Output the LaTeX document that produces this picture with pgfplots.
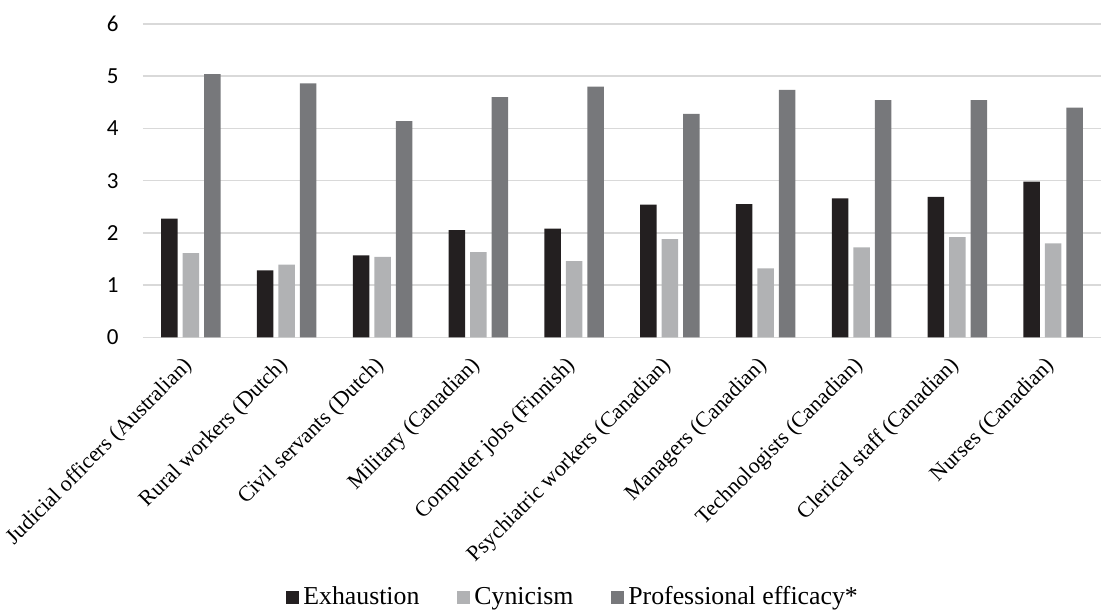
\documentclass[border=0pt]{standalone}
\usepackage{pgfplots}
\usepackage{pgfplotstable}
\pgfplotsset{compat=1.18}
\usepackage{fontspec}
\setmainfont{Liberation Serif}
\newfontfamily\carlito{Carlito}
\definecolor{exh}{HTML}{231F20}
\definecolor{cyn}{HTML}{B1B2B4}
\definecolor{pro}{HTML}{77787B}
\definecolor{gridc}{HTML}{D9D9D9}
\pgfplotstableread{
x exh cyn pro
0 2.27 1.61 5.04
1 1.28 1.39 4.86
2 1.57 1.54 4.14
3 2.05 1.63 4.60
4 2.08 1.46 4.80
5 2.54 1.88 4.28
6 2.55 1.32 4.74
7 2.66 1.72 4.54
8 2.69 1.92 4.54
9 2.98 1.80 4.40
}\data
\begin{document}
\begin{tikzpicture}
\useasboundingbox (-71.5pt,-137.85pt) rectangle (479pt,168.65pt);
\begin{axis}[
  at={(0,0)}, anchor=south west,
  scale only axis, width=479pt, height=156.67pt,
  xmin=-0.5, xmax=9.5, ymin=0, ymax=6,
  ytick={0,1,2,3,4,5,6},
  xtick={0,...,9},
  xticklabels={Judicial officers (Australian),Rural workers (Dutch),Civil servants (Dutch),Military (Canadian),Computer jobs (Finnish),Psychiatric workers (Canadian),Managers (Canadian),Technologists (Canadian),Clerical staff (Canadian),Nurses (Canadian)},
  axis line style={draw=none},
  major tick length=0pt,
  ymajorgrids, grid style={gridc, line width=0.75pt},
  ybar, bar width=8.25pt,
  yticklabel style={font=\carlito\fontsize{11.5}{13}\selectfont, anchor=east, xshift=-8.7pt, /pgf/number format/assume math mode=true},
  xticklabel style={font=\fontsize{11}{13}\selectfont, inner sep=1pt, anchor=east, xshift=0pt, yshift=-12pt, rotate=45},
  legend columns=-1,
  legend style={draw=none, at={(0.45,-0.83)}, anchor=center, font=\fontsize{12.9}{14}\selectfont,
    /tikz/every even column/.append style={column sep=17pt}, inner sep=0pt},
  legend image code/.code={\fill[#1] (0pt,-3.2pt) rectangle (6.5pt,3.3pt);},
]
\addplot[fill=exh, draw=none, bar shift=-10.75pt] table[x=x,y=exh]{\data};
\addplot[fill=cyn, draw=none, bar shift=0pt] table[x=x,y=cyn]{\data};
\addplot[fill=pro, draw=none, bar shift=10.75pt] table[x=x,y=pro]{\data};
\legend{Exhaustion,Cynicism,Professional efficacy*}
\end{axis}
\end{tikzpicture}
\end{document}
